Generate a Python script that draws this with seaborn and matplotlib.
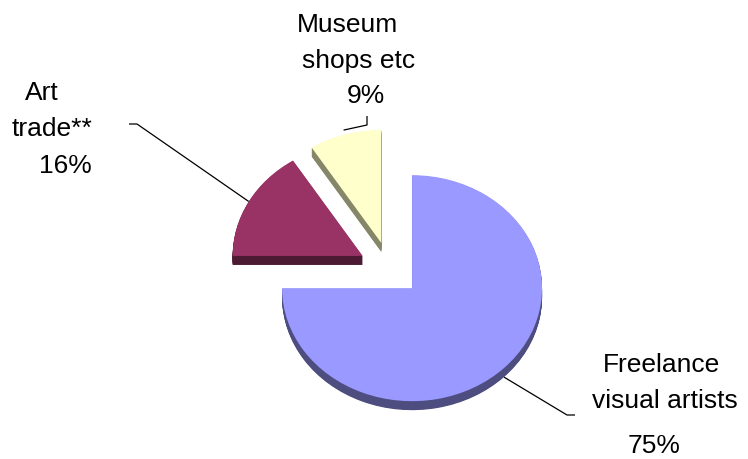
import numpy as np
import matplotlib
matplotlib.use("Agg")
import matplotlib.pyplot as plt
import seaborn as sns

# Distribution of sales by channel
categories = ["Freelance visual artists", "Art trade**", "Museum shops etc"]
shares = [75, 16, 9]
label_lines = [
    ["Freelance", "visual artists", "75%"],
    ["Art", "trade**", "16%"],
    ["Museum", "shops etc", "9%"],
]
top_colors = ["#9999FF", "#993366", "#FFFFCC"]
side_colors = ["#4D4D80", "#4D1A33", "#868669"]

sns.set_theme(style="white")
plt.rcParams["font.family"] = ["Liberation Sans", "DejaVu Sans"]

W, H = 748, 459
fig = plt.figure(figsize=(W / 100, H / 100), dpi=100)
ax = fig.add_axes([0, 0, 1, 1])

RX, RY = 130.0, 113.0      # pixels per unit of radius (tilted pie)
CX, CY = 390.0, 269.0      # pie centre, pixels from the top-left corner
EXPLODE = 0.24
DEPTH = 9.0 / RY
START = 90


def px(x, y):
    """Pixel position (from top-left) to data coordinates."""
    return ((x - CX) / RX, (CY - y) / RY)


# extruded sides: stacked darker copies shifted downwards
n_layers = 14
for i in range(n_layers, 0, -1):
    off = DEPTH * i / n_layers
    ax.pie(shares, colors=side_colors, explode=[EXPLODE] * len(shares),
           startangle=START, counterclock=False, center=(0, -off),
           wedgeprops=dict(linewidth=0))
# top faces
ax.pie(shares, colors=top_colors, explode=[EXPLODE] * len(shares),
       startangle=START, counterclock=False, center=(0, 0),
       wedgeprops=dict(linewidth=0))

ax.set_aspect("auto")
ax.set_xlim(-CX / RX, (W - CX) / RX)
ax.set_ylim(-(H - CY) / RY, CY / RY)
ax.axis("off")

# leader lines start on the rim at each slice's mid-angle
total = float(sum(shares))
cum = np.cumsum([0] + shares[:-1])
mid_angles = [START - 360.0 * (c + s / 2.0) / total for c, s in zip(cum, shares)]

leader_paths = [
    [(567, 415), (575, 415)],
    [(137, 124), (129, 124)],
    [(367, 125), (367, 116)],
]
rim_r = [1.0, 1.0, 1.04]
for ang, r, path in zip(mid_angles, rim_r, leader_paths):
    t = np.deg2rad(ang)
    cx, cy = EXPLODE * np.cos(t), EXPLODE * np.sin(t)
    ax_x, ax_y = cx + r * np.cos(t), cy + r * np.sin(t)
    if np.sin(t) < 0:
        ax_y -= DEPTH
    pts = [(ax_x, ax_y)] + [px(*p) for p in path]
    xs, ys = zip(*pts)
    ax.plot(xs, ys, color="black", lw=0.9, solid_capstyle="butt")

# label text, one line at a time (left edge, baseline)
line_pos = [
    [(603, 372), (592, 408), (628, 453)],
    [(25, 100), (12, 136), (39, 173)],
    [(297, 32), (302, 68), (347, 103)],
]
for lines, positions in zip(label_lines, line_pos):
    for txt, (x, y) in zip(lines, positions):
        dx, dy = px(x, y)
        ax.text(dx, dy, txt, ha="left", va="baseline", fontsize=19,
                color="black")

fig.savefig("out.png", dpi=100, facecolor="white")
